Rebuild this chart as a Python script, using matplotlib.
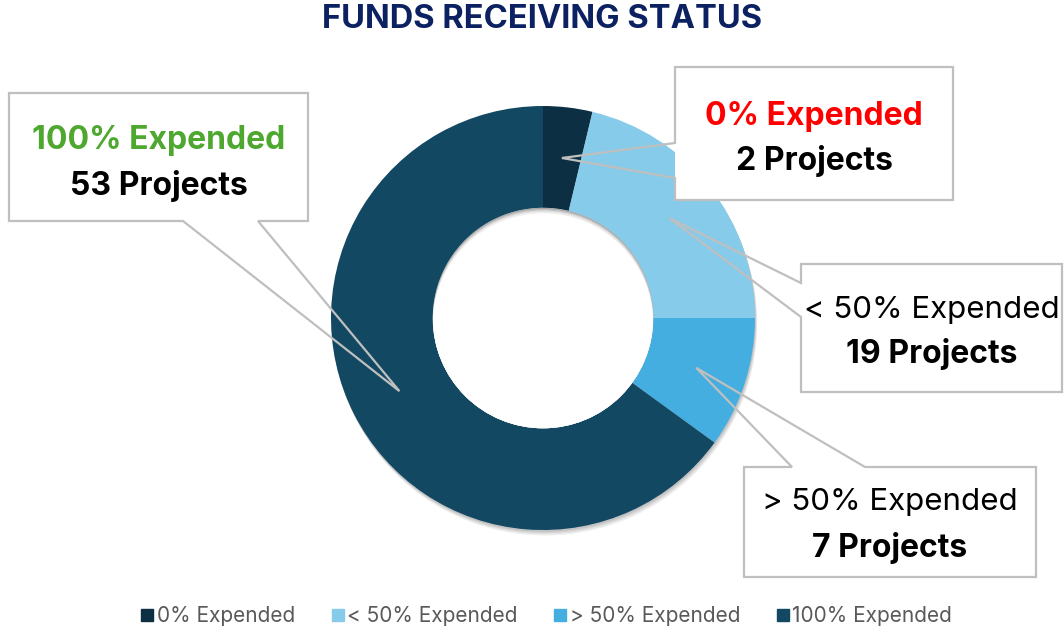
import matplotlib
matplotlib.use("Agg")
import matplotlib.pyplot as plt
from matplotlib.patches import Polygon, Rectangle, Circle
from matplotlib.lines import Line2D
import numpy as np

plt.rcParams['font.family'] = ['Inter', 'DejaVu Sans']

categories = ["0% Expended", "< 50% Expended", "> 50% Expended", "100% Expended"]
# slice sizes as drawn in the ring
slice_values = [3, 17, 8, 52]
# project counts shown in the callouts
project_counts = [2, 19, 7, 53]
colors = ["#0d2f44", "#86cbea", "#44aee0", "#124862"]
title = "FUNDS RECEIVING STATUS"

W, H = 1064, 630
fig = plt.figure(figsize=(W / 100, H / 100), dpi=100)

# overlay axes in pixel coordinates (for callouts)
ov = fig.add_axes([0, 0, 1, 1])
ov.set_xlim(0, W)
ov.set_ylim(H, 0)
ov.axis("off")

# pie axes
cx, cy, R = 543, 318, 212
pax = fig.add_axes([(cx - 1.05 * R) / W, (H - cy - 1.05 * R) / H, 2.1 * R / W, 2.1 * R / H])

# soft outer shadow (down-right)
for d, c in [(0.026, "#f0f0f0"), (0.020, "#e2e2e2"), (0.014, "#d2d2d2"), (0.008, "#c2c2c2")]:
    pax.add_patch(Circle((d * 0.4, -d), 1.0, facecolor=c, linewidth=0, zorder=0))

wedges, _ = pax.pie(slice_values, colors=colors, startangle=90, counterclock=False,
                    radius=1.0, wedgeprops=dict(width=0.48, linewidth=0, zorder=1))
pax.set_xlim(-1.05, 1.05)
pax.set_ylim(-1.05, 1.05)

# inner shadow in the hole (top crescent)
hole = Circle((0, 0), 0.52, transform=pax.transData)
for d, c in [(0.0, "#a8a8a8"), (0.006, "#c4c4c4"), (0.012, "#dcdcdc"),
             (0.018, "#eeeeee"), (0.026, "#ffffff")]:
    p = pax.add_patch(Circle((0, -d), 0.52, facecolor=c, linewidth=0, zorder=3))
    p.set_clip_path(hole)

pax.set_aspect("equal")
pax.axis("off")
pax.set_zorder(1)
ov.set_zorder(2)
ov.patch.set_visible(False)

fig.text(542 / W, 1 - 20 / H, title, ha="center", va="center",
         fontsize=23.5, fontweight="bold", color="#0b2161")

# callout boxes (pixel layout): box (x0, y0, x1, y1), side, pointer base span
boxes = [
    dict(box=(675, 67, 953, 200), side="left", base=(143, 178),
         color="#ff0000", weight="bold", ty=(117, 161)),
    dict(box=(801, 264, 1062, 392), side="left", base=(283, 317),
         color="#000000", weight="normal", ty=(310, 354)),
    dict(box=(744, 467, 1036, 577), side="top", base=(792, 865),
         color="#000000", weight="normal", ty=(502, 548)),
    dict(box=(9, 93, 308, 221), side="bottom", base=(183, 258),
         color="#4ea72e", weight="bold", ty=(141, 186)),
]

total = sum(slice_values)
cum = np.cumsum([0] + slice_values)
tip_r = 0.76
for i, b in enumerate(boxes):
    mid = 90 - 360 * (cum[i] + cum[i + 1]) / 2 / total
    tx_d = tip_r * np.cos(np.radians(mid))
    ty_d = tip_r * np.sin(np.radians(mid))
    px, py = pax.transData.transform((tx_d, ty_d))
    tip = (px, H - py)
    x0, y0, x1, y1 = b["box"]
    a, c = b["base"]
    if b["side"] == "left":
        pts = [(x0, y0), (x1, y0), (x1, y1), (x0, y1), (x0, c), tip, (x0, a)]
    elif b["side"] == "top":
        pts = [(x0, y0), (a, y0), tip, (c, y0), (x1, y0), (x1, y1), (x0, y1)]
    else:
        pts = [(x0, y0), (x1, y0), (x1, y1), (c, y1), tip, (a, y1), (x0, y1)]
    ov.add_patch(Rectangle((x0, y0), x1 - x0, y1 - y0, facecolor="white",
                           edgecolor="none"))
    ov.add_patch(Polygon(pts, closed=True, facecolor="none", edgecolor="#bfbfbf",
                         linewidth=1.6))
    xc = (x0 + x1) / 2
    wt = b["weight"]
    fs1 = 23 if wt == "bold" else 22.5
    ov.text(xc, b["ty"][0], categories[i], ha="center", va="center", fontsize=fs1,
            color=b["color"], fontweight=wt)
    ov.text(xc, b["ty"][1], f"{project_counts[i]} Projects", ha="center", va="center",
            fontsize=23, color="black", fontweight="bold")

handles = [Line2D([], [], marker="s", linestyle="none", markersize=8,
                  markerfacecolor=c, markeredgecolor=c) for c in colors]
fig.legend(handles, categories, loc="center", bbox_to_anchor=(546 / W, 1 - 616 / H),
           ncol=4, frameon=False, fontsize=15, labelcolor="#595959",
           handletextpad=0.1, columnspacing=1.7, handlelength=0.7)

fig.savefig("out.png", dpi=100)
